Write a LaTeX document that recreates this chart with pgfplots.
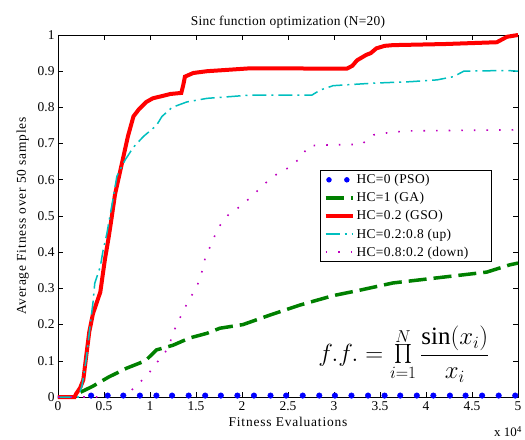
\documentclass[border=0pt]{standalone}
\usepackage{fontspec}
\setmainfont{Liberation Serif}
\usepackage{graphicx}
\usepackage{pgfplots}
\pgfplotsset{compat=1.18}
\definecolor{mgreen}{RGB}{0,128,0}
\definecolor{mcyan}{RGB}{0,191,191}
\definecolor{mmag}{RGB}{191,0,191}
\begin{document}
\begin{tikzpicture}
\begin{axis}[
  scale only axis,
  width=460bp, height=362bp,
  xmin=0, xmax=5, ymin=0, ymax=1,
  xtick={0,0.5,1,1.5,2,2.5,3,3.5,4,4.5,5},
  ytick={0,0.1,0.2,0.3,0.4,0.5,0.6,0.7,0.8,0.9,1},
  tick align=inside,
  major tick length=5bp,
  axis line style={line width=0.8pt},
  tick style={line width=0.6pt, black},
  ticklabel style={font=\fontsize{13.5}{15}\selectfont},
  xticklabel style={yshift=-1bp},
  /pgf/number format/assume math mode=true,
  title={Sinc function optimization (N=20)},
  title style={font=\fontsize{13.5}{15}\selectfont\addfontfeature{LetterSpace=2}, yshift=-3bp},
  xlabel={Fitness Evaluations},
  ylabel={Average Fitness over 50 samples},
  label style={font=\fontsize{13.5}{15}\selectfont\addfontfeature{LetterSpace=6}},
  ylabel style={yshift=2bp},
  clip=false,
  legend cell align=left,
  legend style={at={(0.57,0.627)}, anchor=north west, draw=black,
    line width=0.8pt, font=\fontsize{13.5}{15}\selectfont\addfontfeature{LetterSpace=3},
    row sep=3.3pt, inner xsep=3pt, inner ysep=2pt},
  legend image code/.code={
    \draw[#1] (0cm,0cm) -- (0.95cm,0cm);},
]
\coordinate (bl) at (rel axis cs:0,0);
\coordinate (tr) at (rel axis cs:1,1);

\addplot[blue, only marks, mark=*, mark size=2.8bp,
  legend image code/.code={
    \fill[blue] (0.12cm,0) circle (2.3bp);
    \fill[blue] (0.75cm,0) circle (2.3bp);}]
coordinates {
 (0.36,0.004)(0.54,0.004)(0.71,0.004)(0.89,0.004)(1.07,0.004)(1.24,0.004)
 (1.42,0.004)(1.60,0.004)(1.77,0.004)(1.95,0.004)(2.13,0.004)(2.31,0.004)
 (2.48,0.004)(2.66,0.004)(2.84,0.004)(3.01,0.004)(3.19,0.004)(3.37,0.004)
 (3.55,0.004)(3.72,0.004)(3.90,0.004)(4.08,0.004)(4.26,0.004)(4.43,0.004)
 (4.61,0.004)(4.79,0.004)(4.97,0.004)
};
\addlegendentry{HC=0 (PSO)}

\addplot[mgreen, line width=3.5bp, dash pattern=on 18bp off 7bp] coordinates {
 (0,0)(0.2,0)(0.22,0.01)(0.3,0.02)(0.38,0.03)(0.55,0.055)(0.75,0.08)
 (0.95,0.10)(1.07,0.13)(1.25,0.143)(1.43,0.163)(1.62,0.176)(1.76,0.19)
 (2.01,0.20)(2.3,0.226)(2.63,0.254)(2.99,0.28)(3.28,0.295)(3.64,0.315)
 (4.15,0.33)(4.66,0.345)(4.91,0.365)(5,0.37)
};
\addlegendentry{HC=1 (GA)}

\addplot[red, line width=4bp] coordinates {
 (0,0)(0.18,0)(0.2,0.01)(0.24,0.025)(0.275,0.047)(0.31,0.12)(0.34,0.18)
 (0.38,0.23)(0.42,0.26)(0.46,0.29)(0.51,0.38)(0.55,0.44)(0.58,0.49)
 (0.62,0.56)(0.69,0.64)(0.76,0.72)(0.82,0.775)(0.88,0.795)(0.96,0.815)
 (1.03,0.825)(1.11,0.83)(1.22,0.837)(1.34,0.84)(1.36,0.86)(1.38,0.885)
 (1.47,0.895)(1.62,0.90)(1.8,0.903)(2.09,0.908)(3.14,0.907)(3.2,0.915)
 (3.25,0.93)(3.35,0.945)(3.4,0.95)(3.46,0.963)(3.55,0.97)(3.64,0.972)
 (4.2,0.975)(4.77,0.98)(4.88,0.995)(5,1.0)
};
\addlegendentry{HC=0.2 (GSO)}

\addplot[mcyan, line width=1.5bp, dash pattern=on 14bp off 5bp on 2bp off 5bp] coordinates {
 (0,0)(0.22,0)(0.26,0.03)(0.31,0.11)(0.35,0.2)(0.38,0.26)(0.40,0.315)
 (0.46,0.36)(0.49,0.405)(0.53,0.45)(0.565,0.50)(0.60,0.55)(0.64,0.61)
 (0.73,0.655)(0.82,0.69)(0.93,0.72)(1.07,0.75)(1.13,0.775)(1.24,0.80)
 (1.40,0.815)(1.62,0.825)(2.09,0.834)(2.76,0.834)(2.85,0.848)(2.99,0.86)
 (3.43,0.867)(3.83,0.871)(4.12,0.876)(4.30,0.885)(4.41,0.90)(4.88,0.902)
 (5,0.90)
};
\addlegendentry{HC=0.2:0.8 (up)}

\addplot[mmag, line width=1.6bp, dash pattern=on 1.6bp off 11bp] coordinates {
 (0,0)(0.6,0)(0.7,0.005)(0.76,0.01)(0.89,0.04)(1.0,0.07)(1.09,0.10)
 (1.2,0.135)(1.25,0.177)(1.34,0.226)(1.41,0.262)(1.51,0.305)(1.56,0.342)
 (1.60,0.384)(1.67,0.425)(1.74,0.467)(1.85,0.503)(2.0,0.53)(2.12,0.558)
 (2.25,0.59)(2.39,0.618)(2.52,0.635)(2.65,0.664)(2.72,0.694)(2.92,0.696)
 (3.30,0.698)(3.43,0.724)(3.59,0.73)(3.79,0.735)(5,0.738)
};
\addlegendentry{\makebox[130bp][l]{HC=0.8:0.2 (down)}}

\node[font=\fontsize{25}{30}\selectfont] at (axis cs:3.76,0.118)
  {$\displaystyle f.f.=\mathop{\vcenter{\hbox{\scalebox{1.9}{$\prod$}}}}\limits_{i=1}^{N}\frac{\sin(x_i)}{x_i}$};
\node[anchor=north east, font=\fontsize{13}{15}\selectfont, inner sep=0pt]
  at ([yshift=-29bp,xshift=4bp]rel axis cs:1,0) {x 10$^{\mathrm{4}}$};
\end{axis}
\pgfresetboundingbox
\path ([shift={(-58bp,-43bp)}]bl) rectangle ([shift={(7bp,35bp)}]tr);
\end{tikzpicture}
\end{document}
